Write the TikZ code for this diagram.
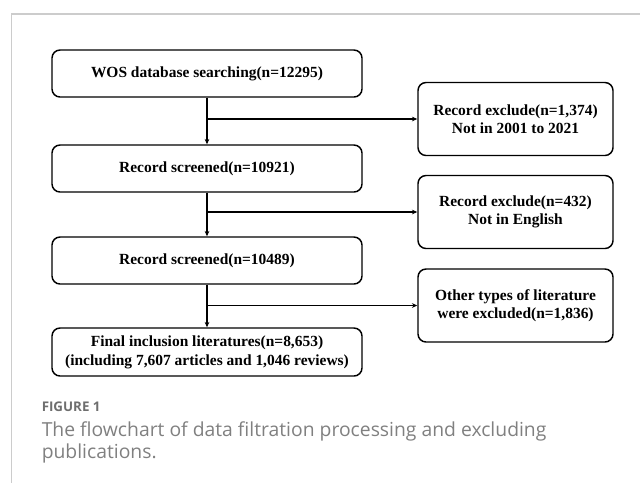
\documentclass[tikz,border=0pt]{standalone}
\usepackage{fontspec}
\setmainfont{Liberation Serif}
\newfontfamily\capfont{Open Sans}
\usetikzlibrary{arrows.meta}
\definecolor{framegray}{HTML}{CCCCCC}
\definecolor{capgray}{HTML}{808080}
\definecolor{figgray}{HTML}{6E6E6E}
\tikzset{
  box/.style={draw=black, line width=1.1pt, rounded corners=6pt, align=center,
    font=\fontsize{11.6}{13.75}\selectfont\bfseries, inner sep=0pt},
  mainbox/.style={box, minimum width=232.5pt, minimum height=35.25pt},
  sidebox/.style={box, minimum width=146.25pt, minimum height=54.75pt},
  flow/.style={line width=1.1pt, -{Stealth[length=4pt,width=3.5pt]}},
  captext/.style={anchor=base west, inner sep=0pt, text=capgray,
    font=\capfont\fontsize{14.5}{15}\selectfont},
}
\begin{document}
\begin{tikzpicture}[x=0.75pt, y=-0.75pt]
  \useasboundingbox (0,0) rectangle (640,483);
  % page frame
  \draw[framegray, line width=0.9pt] (640,14) -- (11.5,14) -- (11.5,483);

  % main column
  \node[mainbox] (wos) at (207,73.5) {WOS database searching(n=12295)};
  \node[mainbox] (s1) at (207,168.5) {Record screened(n=10921)};
  \node[mainbox] (s2) at (207,260.5) {Record screened(n=10489)};
  \node[mainbox, minimum height=36pt, font=\fontsize{11.6}{14.25}\selectfont\bfseries] (fin) at (207,352)
    {Final inclusion literatures(n=8,653)\\(including 7,607 articles and 1,046 reviews)};

  % exclusion column
  \node[sidebox] (ex1) at (515.5,119) {Record exclude(n=1,374)\\Not in 2001 to 2021};
  \node[sidebox] (ex2) at (515.5,212) {Record exclude(n=432)\\Not in English};
  \node[sidebox] (ex3) at (515.5,305.5) {Other types of literature\\were excluded(n=1,836)};

  % vertical flow
  \draw[flow] (wos.south) -- (s1.north);
  \draw[flow] (s1.south) -- (s2.north);
  \draw[flow] (s2.south) -- (fin.north);

  % branches to exclusions
  \coordinate (b1) at (wos.south |- ex1.west);
  \coordinate (b2) at (s1.south |- ex2.west);
  \coordinate (b3) at (s2.south |- ex3.west);
  \draw[flow] (b1) -- (ex1.west);
  \draw[flow] (b2) -- (ex2.west);
  \draw[flow] (b3) -- (ex3.west);

  % caption
  \node[anchor=base west, inner sep=0pt, text=figgray,
    font=\capfont\fontsize{10}{11}\selectfont\bfseries] (figlab) at (41.5,411) {FIGURE 1};
  \node[captext] (cap1) at (41.5,436)
    {The flowchart of data filtration processing and excluding};
  \node[captext] (cap2) at (41.5,458) {publications.};
\end{tikzpicture}
\end{document}
